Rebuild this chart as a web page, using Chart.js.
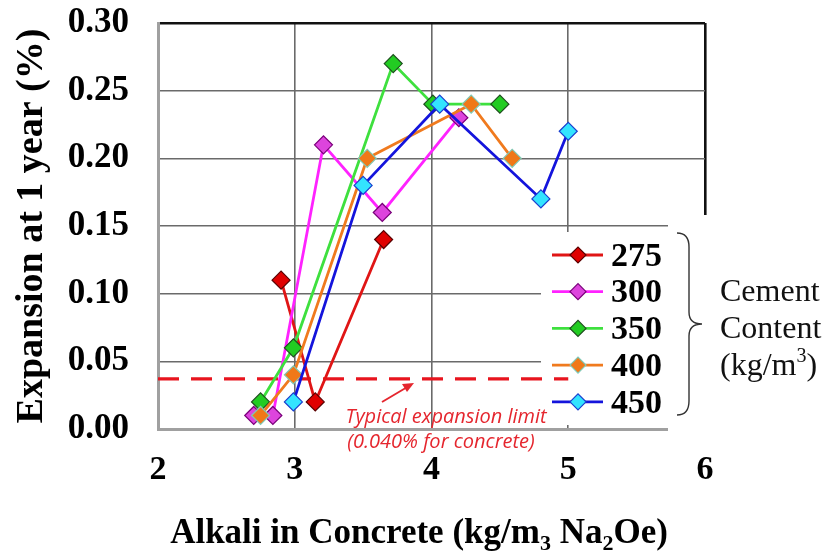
<!DOCTYPE html>
<html><head><meta charset="utf-8">
<script src="https://cdn.jsdelivr.net/npm/chart.js@4.4.0/dist/chart.umd.min.js"></script>
<style>html,body{margin:0;padding:0;background:#fff;}</style>
</head><body>
<canvas id="c" width="830" height="559" style="width:830px;height:559px;display:block"></canvas>
<script>
// ---- data ----
const seriesNames = ['275', '300', '350', '400', '450'];
const x275 = [2.90, 3.15, 3.65];
const y275 = [0.11, 0.02, 0.14];
const x300 = [2.70, 2.84, 3.21, 3.64, 4.20];
const y300 = [0.01, 0.01, 0.21, 0.16, 0.23];
const x350 = [2.75, 2.99, 3.72, 4.01, 4.50];
const y350 = [0.02, 0.06, 0.27, 0.24, 0.24];
const x400 = [2.75, 2.99, 3.53, 4.29, 4.59];
const y400 = [0.01, 0.04, 0.20, 0.24, 0.20];
const x450 = [2.99, 3.50, 4.06, 4.80, 5.00];
const y450 = [0.02, 0.18, 0.24, 0.17, 0.22];
const limitX = [2.0, 5.0];
const limitY = [0.037, 0.037];
const xTickLabels = ['2', '3', '4', '5', '6'];
const yTickLabels = ['0.00', '0.05', '0.10', '0.15', '0.20', '0.25', '0.30'];
const yAxisTitle = 'Expansion at 1 year (%)';
const limitText1 = 'Typical expansion limit';
const limitText2 = '(0.040% for concrete)';
const groupText = ['Cement', 'Content', '(kg/m', '3', ')'];

// ---- styles ----
const lineColors = ['#e01515', '#ff22ff', '#3ee03e', '#f07a1e', '#1414dc'];
const fillColors = ['#e00000', '#dd44dd', '#22cc22', '#f07818', '#33e4ff'];
const edgeColors = ['#5a0000', '#7a007a', '#1e4e1e', '#7fc9b6', '#1a3fd0'];

const xs = [x275, x300, x350, x400, x450];
const ys = [y275, y300, y350, y400, y450];
const pts = (a, b) => a.map((v, i) => ({x: v, y: b[i]}));

const datasets = seriesNames.map((name, i) => ({
  label: name,
  data: pts(xs[i], ys[i]),
  borderColor: lineColors[i],
  borderWidth: 2.8,
  pointStyle: 'rectRot',
  pointRadius: 9,
  pointBackgroundColor: fillColors[i],
  pointBorderColor: edgeColors[i],
  pointBorderWidth: 1.2,
  tension: 0,
  order: seriesNames.length - i,
  clip: false
}));
datasets.push({
  label: 'limit',
  data: pts(limitX, limitY),
  borderColor: '#e8141e',
  borderWidth: 3.2,
  borderDash: [21, 12],
  pointRadius: 0,
  order: 10
});

const serif = "'Liberation Serif', 'Times New Roman', serif";

const overlay = {
  id: 'overlay',
  beforeDatasetsDraw(chart) {
    const {ctx, chartArea: a} = chart;
    ctx.save();
    ctx.fillStyle = '#fff';
    // legend panel pasted over the lower right of the plot
    ctx.fillRect(a.right - 164, a.top + 209, 180, 193);
    ctx.fillRect(a.right - 37, a.top + 192, 60, a.bottom - a.top - 192 + 3);
    ctx.restore();
  },
  afterDraw(chart) {
    const {ctx, chartArea: a} = chart;
    ctx.save();
    // legend entries
    const lx = a.right - 153, rowTop = a.top + 232, rowH = 36.7;
    datasets.slice(0, seriesNames.length).forEach((d, i) => {
      const y = rowTop + i * rowH;
      ctx.strokeStyle = d.borderColor; ctx.lineWidth = 2.8;
      ctx.beginPath(); ctx.moveTo(lx, y); ctx.lineTo(lx + 51, y); ctx.stroke();
      const cx = lx + 26, r = 8;
      ctx.beginPath();
      ctx.moveTo(cx - r, y); ctx.lineTo(cx, y - r); ctx.lineTo(cx + r, y); ctx.lineTo(cx, y + r); ctx.closePath();
      ctx.fillStyle = d.pointBackgroundColor; ctx.fill();
      ctx.strokeStyle = d.pointBorderColor; ctx.lineWidth = 1.2; ctx.stroke();
      ctx.fillStyle = '#000';
      ctx.font = 'bold 34px ' + serif;
      ctx.textBaseline = 'middle'; ctx.textAlign = 'left';
      ctx.fillText(d.label, lx + 59, y + 2);
    });
    // brace
    const bx = a.right - 28, bt = a.top + 210, bb = a.top + 392, bm = (bt + bb) / 2;
    ctx.strokeStyle = '#333'; ctx.lineWidth = 1.4;
    ctx.beginPath();
    ctx.moveTo(bx, bt);
    ctx.quadraticCurveTo(bx + 12, bt, bx + 12, bt + 14);
    ctx.lineTo(bx + 12, bm - 12);
    ctx.quadraticCurveTo(bx + 12, bm, bx + 25, bm);
    ctx.quadraticCurveTo(bx + 12, bm, bx + 12, bm + 12);
    ctx.lineTo(bx + 12, bb - 14);
    ctx.quadraticCurveTo(bx + 12, bb, bx, bb);
    ctx.stroke();
    // group label
    ctx.fillStyle = '#111';
    ctx.font = '32px ' + serif;
    ctx.textAlign = 'left'; ctx.textBaseline = 'middle';
    const gx = a.right + 15;
    ctx.fillText(groupText[0], gx, a.top + 270);
    ctx.fillText(groupText[1], gx, a.top + 307);
    const w1 = ctx.measureText(groupText[2]).width;
    ctx.fillText(groupText[2], gx, a.top + 344);
    ctx.font = '20px ' + serif;
    ctx.fillText(groupText[3], gx + w1, a.top + 334);
    const w2 = ctx.measureText(groupText[3]).width;
    ctx.font = '32px ' + serif;
    ctx.fillText(groupText[4], gx + w1 + w2, a.top + 344);
    // limit annotation
    ctx.fillStyle = '#e5262e';
    ctx.font = "italic 20px 'Open Sans', 'Liberation Sans', sans-serif";
    ctx.textAlign = 'center';
    ctx.fillText(limitText1, 446, a.top + 394);
    ctx.fillText(limitText2, 441, a.top + 419);
    ctx.strokeStyle = '#e5262e'; ctx.lineWidth = 2;
    ctx.beginPath(); ctx.moveTo(382, 402); ctx.lineTo(409, 386); ctx.stroke();
    ctx.beginPath(); ctx.moveTo(414, 383); ctx.lineTo(402, 384); ctx.lineTo(407, 392); ctx.closePath();
    ctx.fillStyle = '#e5262e'; ctx.fill();
    // x axis title with subscripts
    const parts = [['Alkali in Concrete (kg/m', 0], ['3', 1], [' Na', 0], ['2', 1], ['Oe)', 0]];
    const big = 'bold 35px ' + serif, small = 'bold 22px ' + serif;
    let tw = 0;
    parts.forEach(p => { ctx.font = p[1] ? small : big; tw += ctx.measureText(p[0]).width; });
    let tx = 419 - tw / 2;
    const ty = 543;
    ctx.fillStyle = '#000'; ctx.textAlign = 'left'; ctx.textBaseline = 'alphabetic';
    parts.forEach(p => {
      ctx.font = p[1] ? small : big;
      ctx.fillText(p[0], tx, ty + (p[1] ? 7 : 0));
      tx += ctx.measureText(p[0]).width;
    });
    ctx.restore();
  }
};

new Chart(document.getElementById('c'), {
  type: 'line',
  data: {datasets},
  options: {
    responsive: false,
    animation: false,
    devicePixelRatio: 1,
    layout: {padding: {left: 0, right: 125, top: 23, bottom: 0}},
    plugins: {legend: {display: false}, tooltip: {enabled: false}},
    scales: {
      x: {
        type: 'linear', min: 2, max: 6,
        afterFit: s => { s.height = 130; s.paddingLeft = 0; s.paddingRight = 0; },
        afterBuildTicks: s => { s.ticks = xTickLabels.map(v => ({value: Number(v)})); },
        ticks: {
          callback: (v, i) => xTickLabels[i],
          font: {family: serif, size: 34, weight: 'bold'},
          color: '#000', padding: 21, maxRotation: 0, autoSkip: false
        },
        grid: {
          drawTicks: false,
          color: c => c.tick && c.tick.value === 6 ? '#111' : (c.tick && c.tick.value === 2 ? '#a8a8a8' : '#6a6a6a'),
          lineWidth: c => c.tick && c.tick.value === 6 ? 2.6 : 1.6
        },
        border: {color: '#a0a0a0', width: 3}
      },
      y: {
        type: 'linear', min: 0, max: 0.3,
        afterFit: s => { s.width = 158; s.paddingTop = 0; s.paddingBottom = 0; },
        afterBuildTicks: s => { s.ticks = yTickLabels.map(v => ({value: Number(v)})); },
        ticks: {
          callback: (v, i) => yTickLabels[i],
          font: {family: serif, size: 35, weight: 'bold'},
          color: '#000', padding: 29, autoSkip: false
        },
        title: {
          display: true, text: yAxisTitle, color: '#000',
          font: {family: serif, size: 38, weight: 'bold', lineHeight: 1.2},
          padding: {top: 9, bottom: 0}
        },
        grid: {
          drawTicks: false,
          color: c => c.tick && Math.abs(c.tick.value - 0.3) < 1e-9 ? '#111' : (c.tick && c.tick.value === 0 ? '#a8a8a8' : '#6a6a6a'),
          lineWidth: c => c.tick && Math.abs(c.tick.value - 0.3) < 1e-9 ? 2.6 : 1.6
        },
        border: {color: '#a0a0a0', width: 3}
      }
    }
  },
  plugins: [overlay]
});
</script>
</body></html>
